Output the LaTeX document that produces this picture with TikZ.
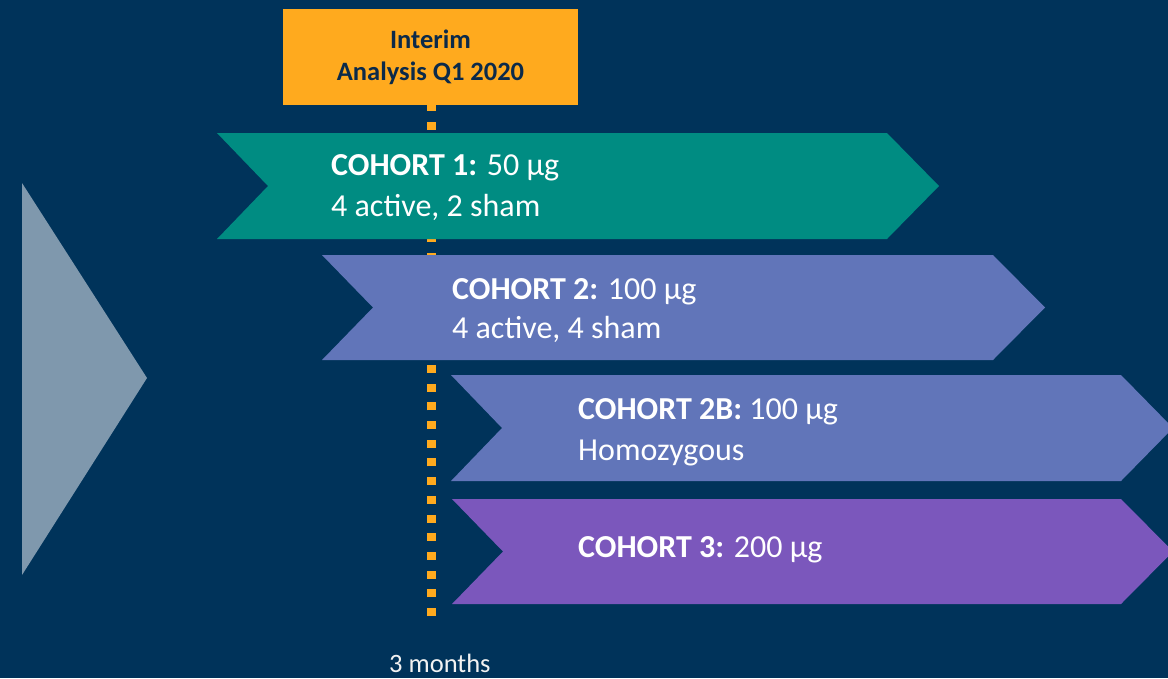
\documentclass[tikz,border=0pt]{standalone}
\usepackage{fontspec}
\setmainfont{Carlito}
\definecolor{bgnavy}{HTML}{00335A}
\definecolor{iorange}{HTML}{FFAA1E}
\definecolor{cteal}{HTML}{008C82}
\definecolor{cblue}{HTML}{6175B9}
\definecolor{cpurple}{HTML}{7B57BC}
\definecolor{trigrey}{HTML}{7F98AD}
\definecolor{navytxt}{HTML}{0B2A4A}
\definecolor{lighttxt}{HTML}{F2F2F2}
\newcommand{\chevron}[5]{%
  \fill[#5] (#1,#3) -- (#2,#3) -- ({#2+52},{(#3+#4)/2}) -- (#2,#4) -- (#1,#4) -- ({#1+51},{(#3+#4)/2}) -- cycle;}
\begin{document}
\begin{tikzpicture}[x=1pt,y=-1pt,
  bigtxt/.style={anchor=base west,inner sep=0pt,text=white,font=\fontsize{32}{40}\selectfont},
  smalltxt/.style={inner sep=0pt,font=\fontsize{26.5}{32}\selectfont},
  dotline/.style={iorange,line width=9pt,dash pattern=on 8pt off 10.7pt}]
\clip (0,0) rectangle (1168,678);
\fill[bgnavy] (0,0) rectangle (1168,678);
% left triangle
\fill[trigrey] (22,183) -- (147,378) -- (22,575) -- cycle;
% interim box
\node[smalltxt,fill=iorange,text=navytxt,align=center,minimum width=295pt,minimum height=96pt,font=\fontsize{26.5}{32}\selectfont\bfseries] (interim) at (430.5,57) {Interim\\Analysis Q1 2020};
\coordinate (tend) at (431,616);
\draw[dotline] (tend) -- (tend |- interim.south);
% chevrons
\chevron{217}{887}{133}{239}{cteal}
\chevron{322}{993}{255}{360}{cblue}
\chevron{451}{1121}{375}{481}{cblue}
\chevron{452}{1121}{499}{604}{cpurple}
% texts
\node[bigtxt] (c1a) at (331,175) {\textbf{COHORT 1:} 50 µg};
\node[bigtxt] (c1b) at (331,216) {4 active, 2 sham};
\node[bigtxt] (c2a) at (452,299) {\textbf{COHORT 2:} 100 µg};
\node[bigtxt] (c2b) at (452,338) {4 active, 4 sham};
\node[bigtxt] (c2ba) at (578,419) {\textbf{COHORT 2B:} 100 µg};
\node[bigtxt] (c2bb) at (578,460) {Homozygous};
\node[bigtxt] (c3a) at (578,557) {\textbf{COHORT 3:} 200 µg};
\node[smalltxt,anchor=base west,text=lighttxt] (months) at (389,672) {3 months};
\end{tikzpicture}
\end{document}
